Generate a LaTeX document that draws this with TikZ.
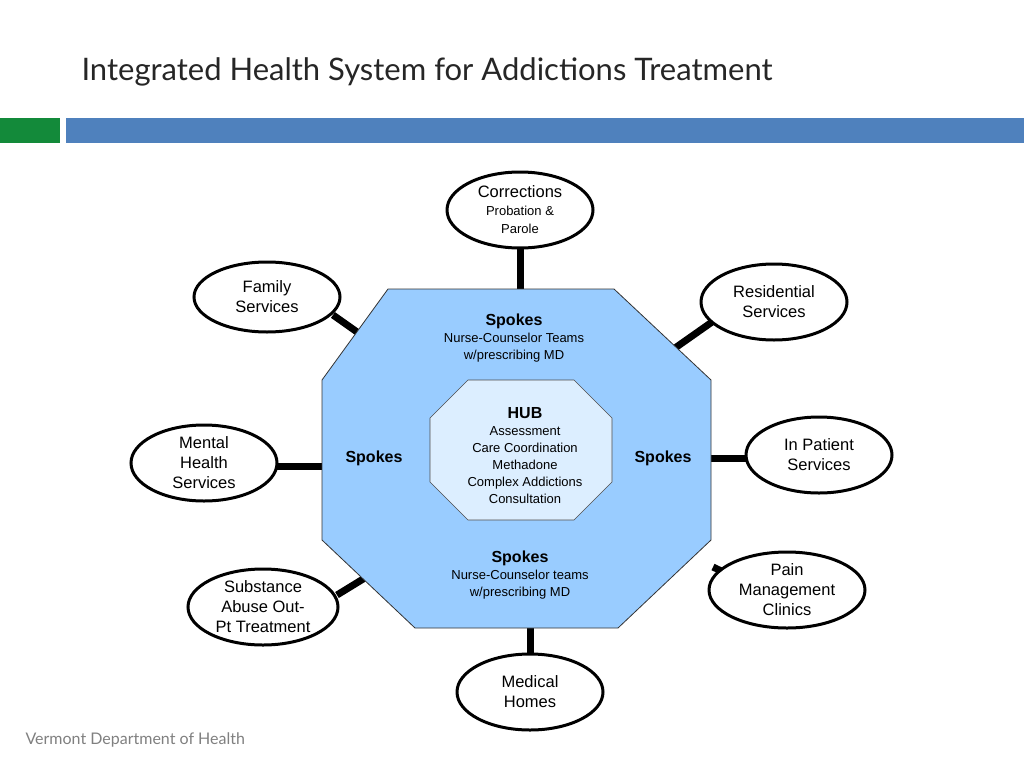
\documentclass[tikz,border=0pt]{standalone}
\usepackage{fontspec}
\setmainfont{Liberation Sans}
\newfontfamily\titlefont{Lato}
\usetikzlibrary{shapes.geometric}
\definecolor{outerblue}{HTML}{99CCFF}
\definecolor{innerblue}{HTML}{DCEEFF}
\definecolor{barblue}{HTML}{4F81BD}
\definecolor{bargreen}{HTML}{138A3A}
\begin{document}
\begin{tikzpicture}[x=1pt,y=-1pt,
  spoke/.style={ellipse,draw=black,line width=3pt,fill=white,minimum width=146pt,minimum height=76pt,inner sep=0pt,align=center,font=\fontsize{16.5}{20}\selectfont},
  conn/.style={line width=7pt,black},
  lbl/.style={align=center,font=\fontsize{13}{17}\selectfont}]
\useasboundingbox (0,0) rectangle (1024,768);
\fill[white] (0,0) rectangle (1024,768);
\node[anchor=west,font=\titlefont\fontsize{31}{36}\selectfont,text=black!85] (title) at (78,72) {Integrated Health System for Addictions Treatment};
\fill[bargreen] (0,118) rectangle (60,143);
\fill[barblue] (66,118) rectangle (1024,143);
\node[anchor=west,font=\titlefont\fontsize{16}{20}\selectfont,text=black!50] (foot) at (22,740) {Vermont Department of Health};
% connectors
\coordinate (c1a) at (520,245); \coordinate (c1b) at (520,292);
\coordinate (c2a) at (333,315); \coordinate (c2b) at (367,339);
\coordinate (c3a) at (712,322); \coordinate (c3b) at (675,348);
\coordinate (c4a) at (275,466); \coordinate (c4b) at (324,466);
\coordinate (c5a) at (748,458); \coordinate (c5b) at (709,458);
\coordinate (c6a) at (337,595); \coordinate (c6b) at (368,576);
\coordinate (c7a) at (742,581); \coordinate (c7b) at (713,567);
\coordinate (c8a) at (530,656); \coordinate (c8b) at (530,626);
\foreach \i in {1,...,8} \draw[conn] (c\i a) -- (c\i b);
% octagons
\draw[fill=outerblue,draw=black!80,line width=0.8pt] (388,289) -- (614,289) -- (711,380) -- (711,540) -- (618,628) -- (415,628) -- (322,540) -- (322,380) -- cycle;
\draw[fill=innerblue,draw=black!70,line width=0.6pt] (468,380) -- (574,380) -- (612,418) -- (612,482) -- (574,520) -- (468,520) -- (430,482) -- (430,418) -- cycle;
\node[lbl] (spTop) at (514,338) {\textbf{\fontsize{16}{19}\selectfont Spokes}\\Nurse-Counselor Teams\\w/prescribing MD};
\node[lbl] (spBot) at (520,575) {\textbf{\fontsize{16}{19}\selectfont Spokes}\\Nurse-Counselor teams\\w/prescribing MD};
\node[font=\bfseries\fontsize{16}{19}\selectfont] (spL) at (374,458) {Spokes};
\node[font=\bfseries\fontsize{16}{19}\selectfont] (spR) at (663,458) {Spokes};
\node[lbl] (hub) at (525,456) {\textbf{\fontsize{16}{19}\selectfont HUB}\\Assessment\\Care Coordination\\Methadone\\Complex Addictions\\Consultation};
% ellipses
\node[spoke] (corr) at (520,210) {Corrections\\[-2pt]{\fontsize{13}{17}\selectfont Probation \&}\\[-2pt]{\fontsize{13}{17}\selectfont Parole}};
\node[spoke,minimum height=70pt] (fam) at (267,297) {Family\\Services};
\node[spoke] (res) at (774,302) {Residential\\Services};
\node[spoke] (ment) at (204,463) {Mental\\Health\\Services};
\node[spoke] (inp) at (819,455) {In Patient\\Services};
\node[spoke,minimum width=150pt] (sub) at (263,607) {Substance\\Abuse Out-\\Pt Treatment};
\node[spoke,minimum width=156pt] (pain) at (787,590) {Pain\\Management\\Clinics};
\node[spoke] (med) at (530,692) {Medical\\Homes};
\end{tikzpicture}
\end{document}
